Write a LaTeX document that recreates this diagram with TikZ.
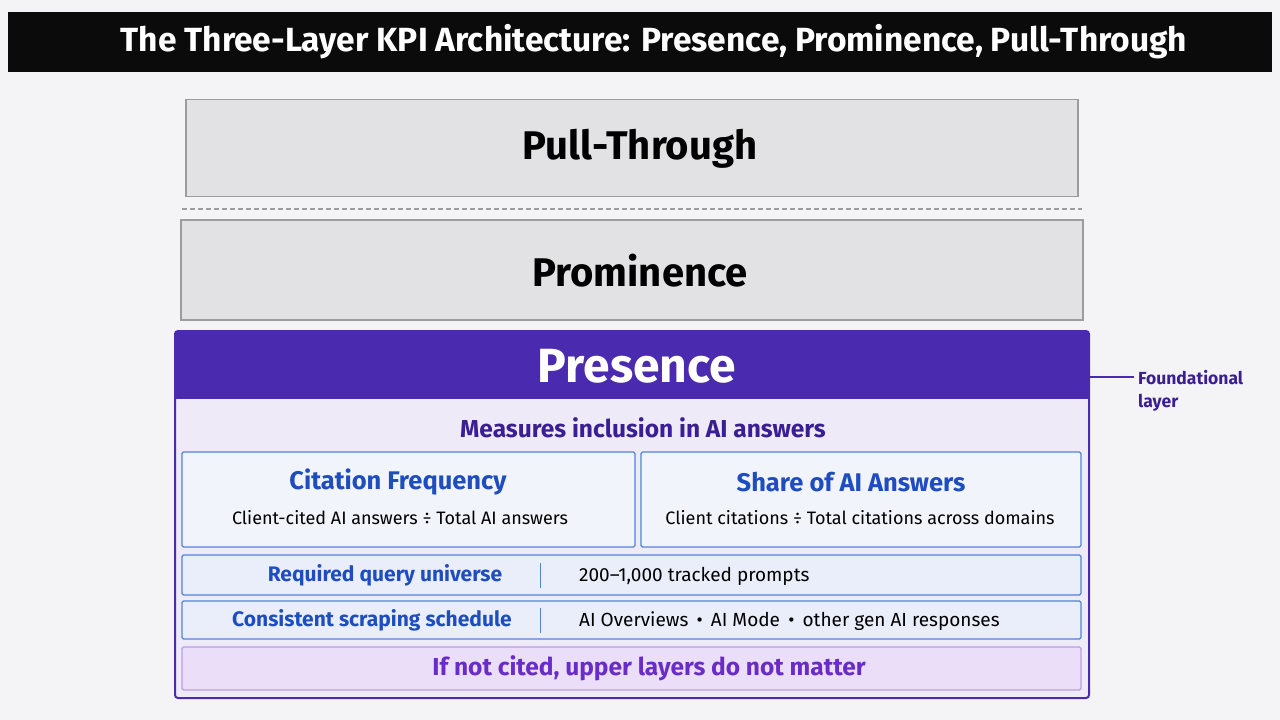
\documentclass[tikz,border=0pt]{standalone}
\usepackage{fontspec}
\setmainfont{Fira Sans}
\usetikzlibrary{positioning}

\definecolor{pagebg}{HTML}{F4F4F7}
\definecolor{titlebg}{HTML}{0B0B0C}
\definecolor{layerfill}{HTML}{E2E2E4}
\definecolor{layerline}{HTML}{9C9C9E}
\definecolor{purp}{HTML}{4A2AAE}
\definecolor{lavender}{HTML}{EEEAF8}
\definecolor{deeppurp}{HTML}{3B1E94}
\definecolor{metricline}{HTML}{5283D6}
\definecolor{metricfill}{HTML}{F2F4FC}
\definecolor{rowfill}{HTML}{E9EEFA}
\definecolor{metricblue}{HTML}{1E4DBF}
\definecolor{warnfill}{HTML}{EBDEF8}
\definecolor{warnline}{HTML}{B99DE8}
\definecolor{warntext}{HTML}{6A2CC8}

\newcommand{\setfs}[2]{\fontsize{#1}{#2}\selectfont}

\begin{document}
\begin{tikzpicture}[x=1pt, y=-1pt,
    layer/.style={draw=layerline, fill=layerfill, line width=1.2pt,
      minimum width=#1, minimum height=97pt, inner sep=0pt},
    layerlabel/.style={text=black, font=\bfseries\setfs{40}{48}},
    presbody/.style={draw=purp, fill=lavender, line width=2pt, rounded corners=3pt,
      minimum width=914pt, minimum height=367pt, inner sep=0pt},
    preshead/.style={fill=purp, minimum width=914pt, minimum height=68pt, inner sep=0pt},
    metricbox/.style={draw=metricline, fill=metricfill, line width=1.2pt, rounded corners=1.5pt,
      minimum height=95pt, inner sep=0pt},
    rowbox/.style={draw=metricline, fill=rowfill, line width=1.2pt, rounded corners=1.5pt,
      minimum width=899pt, minimum height=#1, inner sep=0pt},
    metrictitle/.style={text=metricblue, font=\bfseries\setfs{25.5}{30}},
    formula/.style={text=black, font=\setfs{18}{22}},
    rowlabel/.style={text=metricblue, font=\bfseries\setfs{21}{25}},
    rowtext/.style={text=black, anchor=west, inner sep=0pt, font=\setfs{19}{23}}
  ]

  \useasboundingbox (0,0) rectangle (1280,720);
  \fill[pagebg] (0,0) rectangle (1280,720);

  % title bar
  \node[fill=titlebg, minimum width=1264pt, minimum height=60pt, inner sep=0pt] (title) at (640,42) {};
  \node[text=white, font=\bfseries\setfs{33.5}{38}] (titletext) at (654,42)
    {The Three-Layer KPI Architecture: Presence, Prominence, Pull-Through};

  % upper layers
  \node[layer=892pt] (pull) at (632,148) {};
  \node[layerlabel] (pulltext) at (640,149) {Pull-Through};
  \draw[layerline, line width=1.2pt, dashed, dash pattern=on 5pt off 3pt] (182,209) -- (1082,209);
  \node[layer=902pt, minimum height=100pt] (prom) at (632,270) {};
  \node[layerlabel] (promtext) at (640,271) {Prominence};

  % presence layer
  \node[presbody] (presence) at (632,514.5) {};
  \node[preshead] (preshead) at (632,365) {};
  \node[text=white, font=\bfseries\setfs{48}{56}] (prestext) at (637,366) {Presence};
  \node[text=deeppurp, font=\bfseries\setfs{24.5}{29}] (measures) at (643,428)
    {Measures inclusion in AI answers};

  \node[metricbox, minimum width=453pt] (citebox) at (408.5,499.5) {};
  \node[metrictitle] (citetitle) at (398,482) {Citation Frequency};
  \node[formula] (citeformula) at (400,518) {Client-cited AI answers ÷ Total AI answers};

  \node[metricbox, minimum width=440pt] (sharebox) at (861,499.5) {};
  \node[metrictitle] (sharetitle) at (851,482) {Share of AI Answers};
  \node[formula] (shareformula) at (860,518) {Client citations ÷ Total citations across domains};

  \node[rowbox=40pt] (queryrow) at (631.5,575) {};
  \node[rowlabel] (querylabel) at (385,575) {Required query universe};
  \draw[metricline, line width=1pt] (540,563) -- (540,588);
  \node[rowtext] (querytext) at (579,576) {200–1,000 tracked prompts};

  \node[rowbox=38pt] (scraperow) at (631.5,620) {};
  \node[rowlabel] (scrapelabel) at (372,620) {Consistent scraping schedule};
  \draw[metricline, line width=1pt] (540,608) -- (540,633);
  \node[rowtext] (scrapetext) at (579,621) {AI Overviews \,•\, AI Mode \,•\, other gen AI responses};

  \node[rowbox=43pt, draw=warnline, fill=warnfill] (warnrow) at (631.5,668.5) {};
  \node[text=warntext, font=\bfseries\setfs{24.5}{29}] (warntext) at (649,668.5)
    {If not cited, upper layers do not matter};

  % side note
  \node[anchor=west, align=left, text=deeppurp, inner sep=4pt,
    font=\bfseries\setfs{17.5}{23}] (foundnote) at (1134,391) {Foundational\\layer};
  \coordinate (tick) at (1089,377);
  \draw[purp, line width=1.5pt] (tick) -- (foundnote.west |- tick);

\end{tikzpicture}
\end{document}
